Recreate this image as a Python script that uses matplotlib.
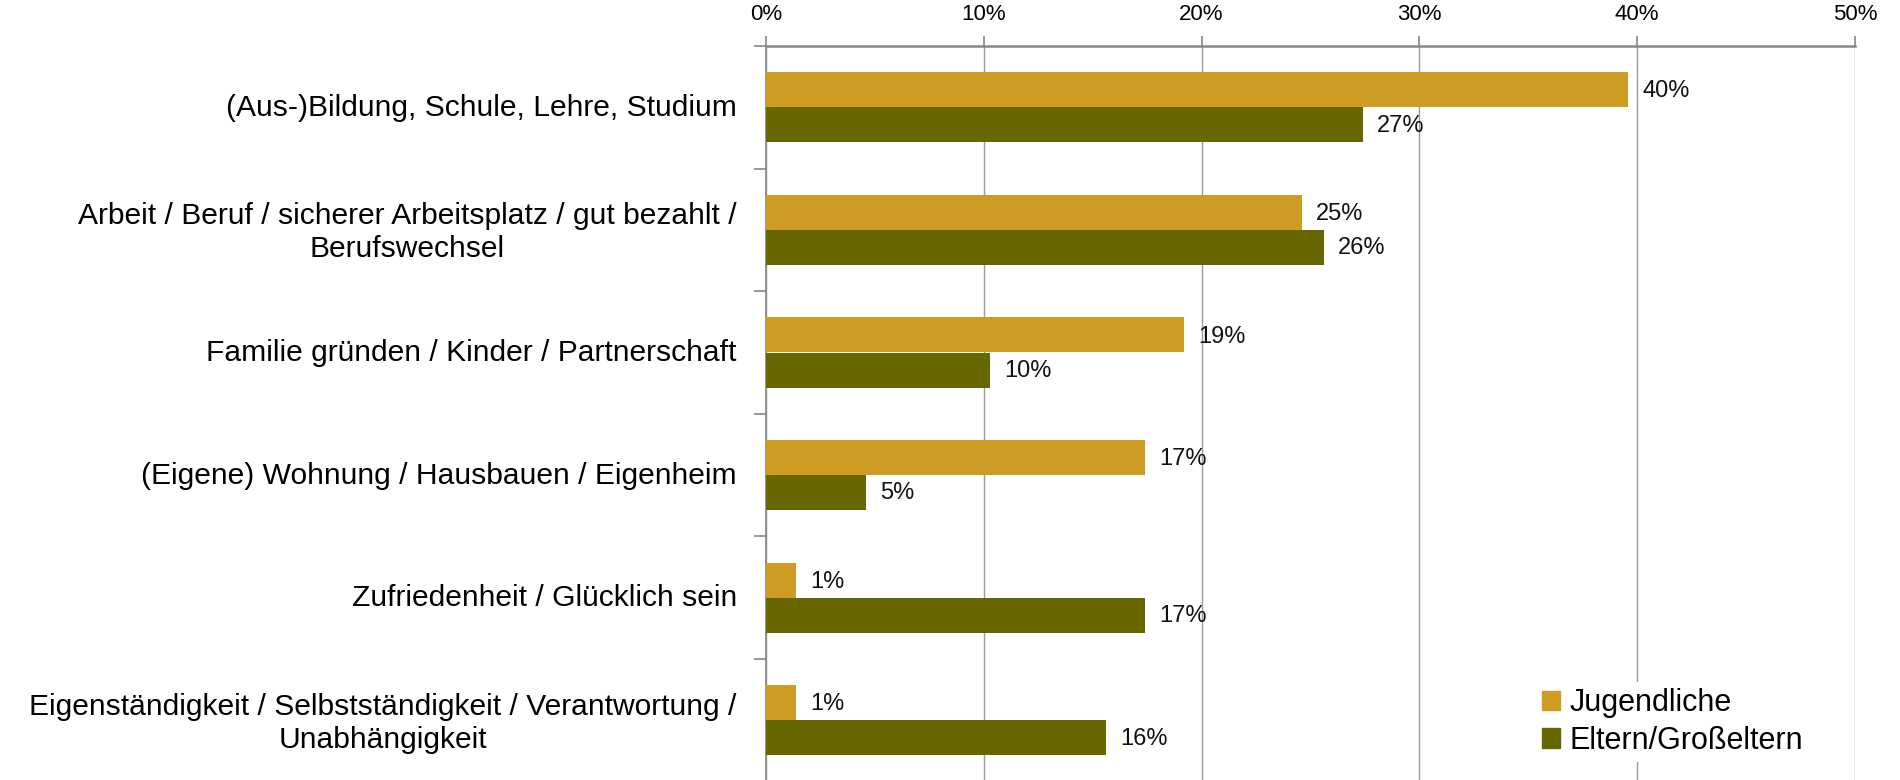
import matplotlib

matplotlib.use("Agg")

import matplotlib.patches as mpatches
import matplotlib.pyplot as plt
import numpy as np

plt.rcParams["font.family"] = ["Liberation Sans", "DejaVu Sans"]

# ---- data ----------------------------------------------------------------
categories = [
    "(Aus-)Bildung, Schule, Lehre, Studium",
    "Arbeit / Beruf / sicherer Arbeitsplatz / gut bezahlt /\nBerufswechsel",
    "Familie gründen / Kinder / Partnerschaft",
    "(Eigene) Wohnung / Hausbauen / Eigenheim",
    "Zufriedenheit / Glücklich sein",
    "Eigenständigkeit / Selbstständigkeit / Verantwortung /\nUnabhängigkeit",
]
jugendliche = [39.6, 24.6, 19.2, 17.4, 1.4, 1.4]
eltern = [27.4, 25.6, 10.3, 4.6, 17.4, 15.6]
series_names = ["Jugendliche", "Eltern/Großeltern"]
x_ticks = [0, 10, 20, 30, 40, 50]

COL_J = "#CF9C23"
COL_E = "#676600"
GRID = "#9A9A9A"
AXIS = "#868686"

W, H = 1900, 780
fig = plt.figure(figsize=(19, 7.8), dpi=100, facecolor="white")

# axes: left edge at 0% line, top at the axis line; the plot runs past
# the bottom of the figure (the reference is a crop of a taller chart)
left, right, top = 766 / W, 1855 / W, 1 - 46 / H
band = 122.6 / H
n_bands = 7
ax = fig.add_axes([left, top - n_bands * band, right - left, n_bands * band])

y = np.arange(len(categories))
bh = 0.285
ax.barh(y - 0.143, jugendliche, height=bh, color=COL_J, zorder=3)
ax.barh(y + 0.143, eltern, height=bh, color=COL_E, zorder=3)

for yi, v in zip(y, jugendliche):
    ax.text(v + 0.65, yi - 0.13, f"{v:.0f}%", va="center", ha="left",
            fontsize=17, color="#111")
for yi, v in zip(y, eltern):
    ax.text(v + 0.65, yi + 0.15, f"{v:.0f}%", va="center", ha="left",
            fontsize=17, color="#111")

ax.set_xlim(0, 50)
ax.set_ylim(n_bands - 0.5, -0.5)

# x axis on top
ax.xaxis.tick_top()
ax.set_xticks(x_ticks, labels=[f"{t}%" for t in x_ticks])
ax.tick_params(axis="x", direction="out", length=7, width=1.2, color=AXIS,
               labelsize=16, pad=8)
ax.grid(axis="x", color=GRID, lw=1.0, zorder=0)

# y: ticks at band boundaries, labels at band centres
ax.set_yticks(np.arange(-0.5, n_bands, 1.0))
ax.set_yticklabels([])
ax.tick_params(axis="y", which="major", direction="out", length=9,
               width=1.2, color=AXIS)
ax.set_yticks(y - 0.02, labels=categories, minor=True)
ax.tick_params(axis="y", which="minor", length=0, labelsize=21.6, pad=21)
for lab in ax.get_yticklabels(minor=True):
    lab.set_multialignment("center")
    lab.set_linespacing(1.22)

for s in ("right", "bottom"):
    ax.spines[s].set_visible(False)
ax.spines["top"].set_color(AXIS)
ax.spines["top"].set_linewidth(1.8)
ax.spines["left"].set_color(AXIS)
ax.spines["left"].set_linewidth(1.2)

handles = [mpatches.Patch(color=COL_J, label=series_names[0]),
           mpatches.Patch(color=COL_E, label=series_names[1])]
leg = fig.legend(handles=handles, loc="upper left",
                 bbox_to_anchor=(1536 / W, 1 - 682 / H),
                 fontsize=22, frameon=True, facecolor="white",
                 edgecolor="none", framealpha=1, fancybox=False,
                 handlelength=0.6, handleheight=0.6, handletextpad=0.3,
                 labelspacing=0.25, borderpad=0.2, borderaxespad=0)

fig.savefig("out.png", dpi=100)
